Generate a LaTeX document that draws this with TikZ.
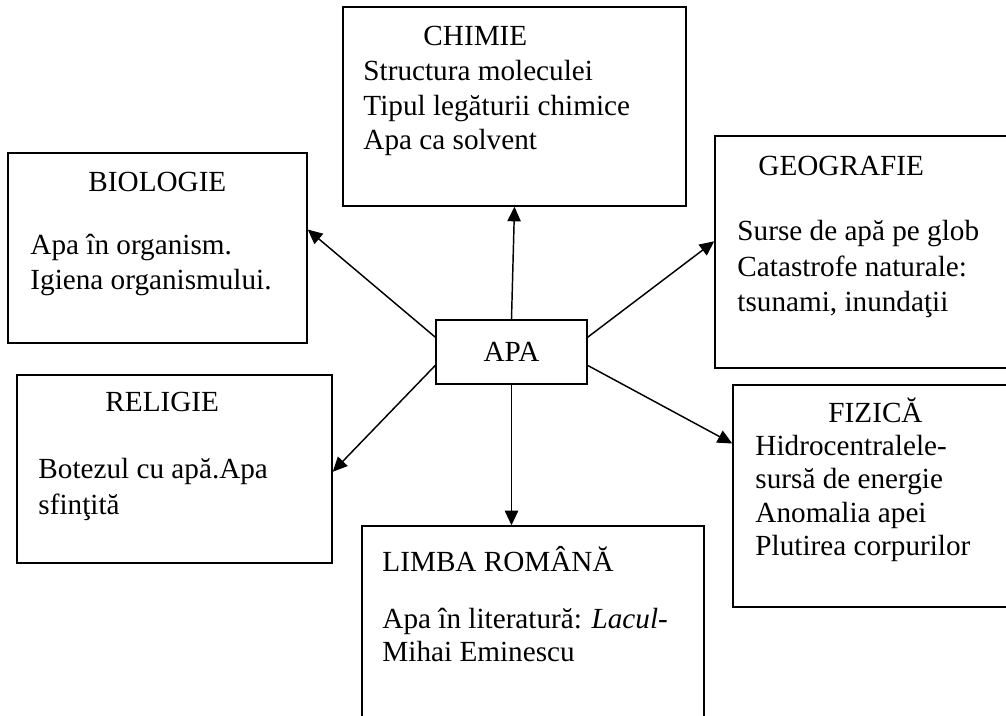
\documentclass[tikz,border=0pt]{standalone}
\usepackage{fontspec}
\setmainfont{Liberation Serif}
\usetikzlibrary{arrows.meta}

\tikzset{
  box/.style 2 args={draw, line width=0.6pt, inner sep=0pt,
    minimum width=#1*0.411pt, minimum height=#2*0.411pt},
  txt/.style={anchor=base west, inner sep=0pt},
  arr/.style={line width=0.6pt, -{Triangle[length=6pt,width=5.5pt]}}
}

\begin{document}
\begin{tikzpicture}[x=0.411pt, y=-0.411pt, font=\fontsize{12}{14}\selectfont]
    \useasboundingbox (0,0) rectangle (1006,716);
    % boxes
    \node[box={343}{199}] (chimie) at (514.5,106.5) {};
    \node[box={299}{190}] (biologie) at (157.5,248) {};
    \node[box={305}{232}] (geografie) at (867.5,252) {};
    \node[box={151}{64}] (apa) at (511.5,352) {APA};
    \node[box={315}{188}] (religie) at (174.5,469) {};
    \node[box={287}{222}] (fizica) at (876.5,496) {};
    \node[box={342}{220}] (limba) at (533,636) {};
    % arrows
    \draw[arr] (apa.north) -- (chimie.south);
    \draw[arr] (apa.169) -- (biologie.7);
    \draw[arr] (apa.11) -- (geografie.176);
    \draw[arr] (apa.190) -- (religie.-1);
    \draw[arr] (apa.-10) -- (fizica.160);
    \draw[arr] (apa.south) -- (apa.south |- limba.north);
    % texts
    \draw (423,46) node[txt] (chimT) {CHIMIE};
    \draw (363,81) node[txt] (chim1) {Structura moleculei};
    \draw (363,115.5) node[txt] (chim2) {Tipul legăturii chimice};
    \draw (363,150) node[txt] (chim3) {Apa ca solvent};
    \draw (88,192) node[txt] (bioT) {BIOLOGIE};
    \draw (30,255) node[txt] (bio1) {Apa în organism.};
    \draw (30,290) node[txt] (bio2) {Igiena organismului.};
    \draw (758,176) node[txt] (geoT) {GEOGRAFIE};
    \draw (737,241) node[txt] (geo1) {Surse de apă pe glob};
    \draw (737,277) node[txt] (geo2) {Catastrofe naturale:};
    \draw (737,312) node[txt] (geo3) {tsunami, inundaţii};
    \draw (105,412) node[txt] (relT) {RELIGIE};
    \draw (38,479) node[txt] (rel1) {Botezul cu apă.Apa};
    \draw (38,515) node[txt] (rel2) {sfinţită};
    \draw (828,423) node[txt] (fizT) {FIZICĂ};
    \draw (755,456) node[txt] (fiz1) {Hidrocentralele-};
    \draw (755,489) node[txt] (fiz2) {sursă de energie};
    \draw (755,523) node[txt] (fiz3) {Anomalia apei};
    \draw (755,556) node[txt] (fiz4) {Plutirea corpurilor};
    \draw (382,572) node[txt] (limT) {LIMBA ROMÂNĂ};
    \draw (382,629) node[txt] (lim1) {Apa în literatură: \textit{Lacul}-};
    \draw (382,662) node[txt] (lim2) {Mihai Eminescu};
\end{tikzpicture}
\end{document}
